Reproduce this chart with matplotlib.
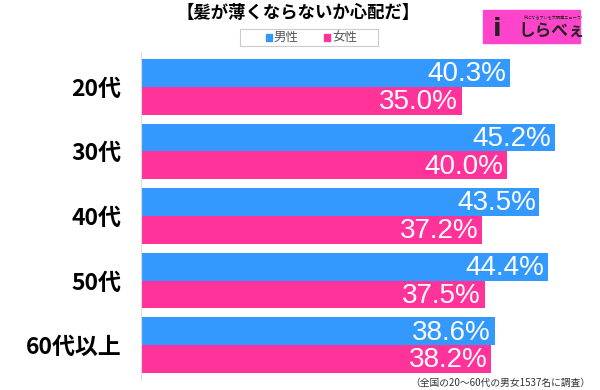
import numpy as np
import matplotlib.pyplot as plt
from matplotlib.patches import Rectangle

plt.rcParams['font.family'] = ['Noto Sans CJK JP', 'DejaVu Sans']

# data
categories = ['20代', '30代', '40代', '50代', '60代以上']
male = [40.3, 45.2, 43.5, 44.4, 38.6]
female = [35.0, 40.0, 37.2, 37.5, 38.2]
series_names = ['男性', '女性']

blue = '#3399ff'
pink = '#ff3399'

fig = plt.figure(figsize=(6, 3.9), dpi=100)
ax = fig.add_axes([141 / 600, 1 - 380 / 390, 458 / 600, 328 / 390])

y = np.arange(len(categories))
h = 0.43
ax.barh(y - h / 2, male, height=h, color=blue)
ax.barh(y + h / 2, female, height=h, color=pink)

for i in range(len(categories)):
    ax.text(male[i] - 0.4, y[i] - h / 2 + 0.02, f'{male[i]:.1f}%', color='white',
            ha='right', va='center', fontsize=20, family='Liberation Sans')
    ax.text(female[i] - 0.4, y[i] + h / 2 + 0.02, f'{female[i]:.1f}%', color='white',
            ha='right', va='center', fontsize=20, family='Liberation Sans')

ax.set_xlim(0, 50)
ax.set_ylim(len(categories) - 0.5 + 0.04, -0.5 - 0.04)
ax.set_yticks(y)
ax.set_yticklabels(categories, fontsize=16.5, fontweight='bold')
ax.tick_params(axis='y', length=0, pad=14)
ax.set_xticks([])
for s in ['top', 'right', 'bottom']:
    ax.spines[s].set_visible(False)
ax.spines['left'].set_color('#dddddd')

# title
fig.text(298 / 600, 1 - 13 / 390, '【髪が薄くならないか心配だ】', ha='center', va='center',
         fontsize=12.5, fontweight='bold')

# legend box
fig.patches.append(Rectangle((240 / 600, 1 - 46 / 390), 138 / 600, 17 / 390,
                             transform=fig.transFigure, fill=False,
                             edgecolor='#cccccc', linewidth=0.8))
fig.patches.append(Rectangle((266 / 600, 1 - 40.5 / 390), 6 / 600, 6 / 390,
                             transform=fig.transFigure, color=blue))
fig.text(274 / 600, 1 - 37.5 / 390, series_names[0], ha='left', va='center',
         fontsize=9, color='#555555')
fig.patches.append(Rectangle((324 / 600, 1 - 40.5 / 390), 6 / 600, 6 / 390,
                             transform=fig.transFigure, color=pink))
fig.text(332 / 600, 1 - 37.5 / 390, series_names[1], ha='left', va='center',
         fontsize=9, color='#555555')

# logo
fig.patches.append(Rectangle((483 / 600, 1 - 43 / 390), 97 / 600, 33 / 390,
                             transform=fig.transFigure, color='#ff44cc'))
fig.text(519 / 600, 1 - 31 / 390, 'しらべぇ', ha='left', va='center',
         fontsize=12, fontweight='bold', color='#222222')
fig.text(553 / 600, 1 - 17 / 390, '気になるアレを大調査ニュース!', ha='center', va='center',
         fontsize=3, color='#222222')
fig.text(497 / 600, 1 - 29 / 390, 'i', ha='center', va='center',
         fontsize=18, fontweight='bold', color='#222222', family='DejaVu Sans')

# footnote
fig.text(590 / 600, 1 - 383 / 390, '（全国の20〜60代の男女1537名に調査）', ha='right',
         va='center', fontsize=7, color='#333333')

fig.savefig('out.png', dpi=100)
